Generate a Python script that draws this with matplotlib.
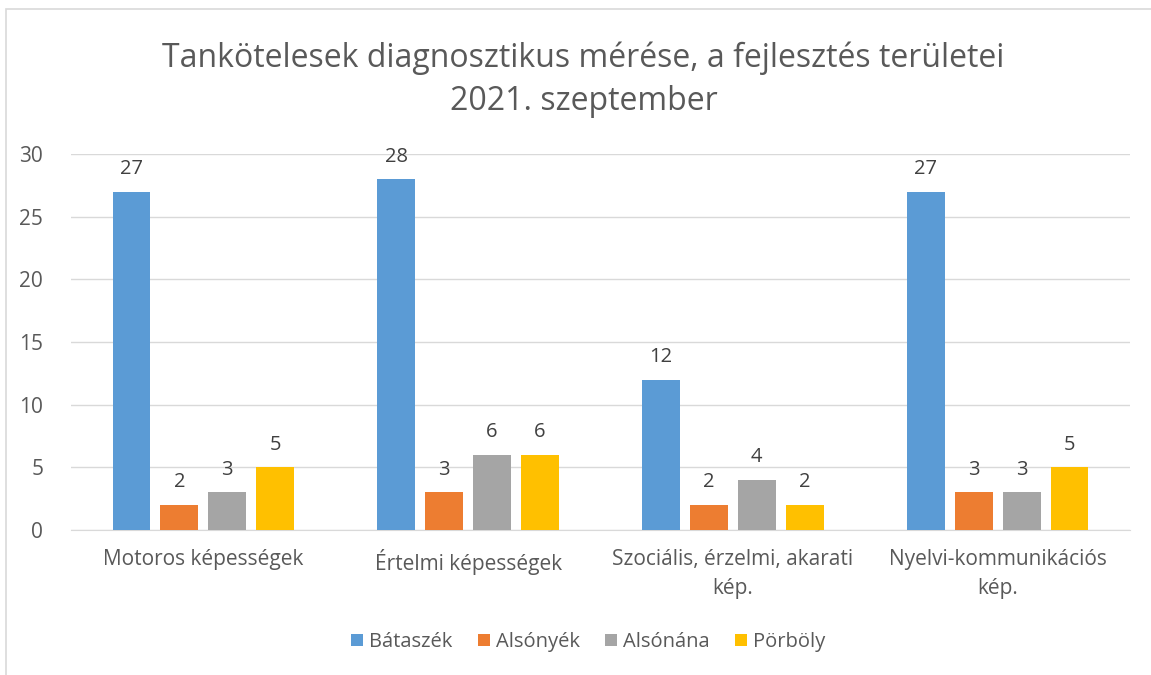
import numpy as np
import matplotlib
matplotlib.use("Agg")
import matplotlib.pyplot as plt
from matplotlib.patches import Rectangle

cats = ["Motoros képességek", "Értelmi képességek",
        "Szociális, érzelmi, akarati\nkép.", "Nyelvi-kommunikációs\nkép."]
series = ["Bátaszék", "Alsónyék", "Alsónána", "Pörböly"]
bataszek = [27, 28, 12, 27]
alsonyek = [2, 3, 2, 3]
alsonana = [3, 6, 4, 3]
porboly = [5, 6, 2, 5]
colors = ["#5B9BD5", "#ED7D31", "#A5A5A5", "#FFC000"]

plt.rcParams["font.family"] = ["Open Sans", "DejaVu Sans"]
txt = "#595959"

fig = plt.figure(figsize=(11.51, 6.75), dpi=100)
ax = fig.add_axes([71 / 1151, 1 - 530 / 675, (1130 - 71) / 1151, (530 - 154) / 675])

x = np.arange(len(cats))
w = 0.143
step = 0.181
vals = [bataszek, alsonyek, alsonana, porboly]
for i, (nm, v, c) in enumerate(zip(series, vals, colors)):
    pos = x + (i - 1.5) * step
    ax.bar(pos, v, w, color=c, label=nm, zorder=3)
    for p, val in zip(pos, v):
        ax.text(p, val + 1.0, str(val), ha="center", va="bottom",
                fontsize=14.5, color="#404040")

ax.set_xlim(-0.5, 3.5)
ax.set_ylim(0, 30)
ax.set_yticks(range(0, 31, 5))
ax.grid(axis="y", color="#D9D9D9", lw=1, zorder=0)
for s in ["top", "right", "left"]:
    ax.spines[s].set_visible(False)
ax.spines["bottom"].set_color("#D9D9D9")
ax.tick_params(length=0, labelsize=15, colors=txt)
ax.tick_params(axis="y", pad=20)
ax.tick_params(axis="x", pad=14)
ax.set_xticks(x)
ax.set_xticklabels(cats, linespacing=1.45)

fig.text(0.507, 1 - 58 / 675, "Tankötelesek diagnosztikus mérése, a fejlesztés területei",
         ha="center", va="center", fontsize=23, color=txt)
fig.text(0.507, 1 - 101 / 675, "2021. szeptember",
         ha="center", va="center", fontsize=23, color=txt)

fig.legend(loc="center", bbox_to_anchor=(0.511, 1 - 642 / 675), ncol=4, frameon=False,
           fontsize=14.5, handlelength=0.6, handleheight=0.6, handletextpad=0.3,
           columnspacing=1.25, labelcolor=txt)

fig.patches.append(Rectangle((6 / 1151, -0.1), 1.2, 1 - 9 / 675 + 0.1,
                             transform=fig.transFigure, fill=False,
                             edgecolor="#D9D9D9", lw=1.2))

fig.savefig("out.png", dpi=100)
